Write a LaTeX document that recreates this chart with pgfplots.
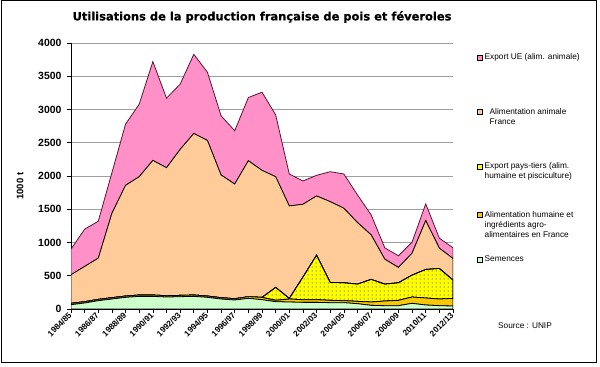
\documentclass[border=0pt]{standalone}
\usepackage{fontspec}
\setmainfont{Liberation Sans}
\newfontfamily\titlefont[FakeBold=0.6]{DejaVu Sans Bold}
\usepackage{pgfplots}
\usepackage{pgfplotstable}
\pgfplotsset{compat=1.18}
\usetikzlibrary{patterns.meta}

\tikzdeclarepattern{
  name=ydots,
  type=uncolored,
  bottom left={(-2bp,-2bp)},
  top right={(2bp,2bp)},
  tile size={(4bp,4bp)},
  code={\pgfpathcircle{\pgfpointorigin}{0.5bp}\pgfusepath{fill}}
}

\definecolor{cPink}{RGB}{255,145,200}
\definecolor{cPeach}{RGB}{255,204,153}
\definecolor{cYellow}{RGB}{255,255,0}
\definecolor{cGold}{RGB}{250,200,0}
\definecolor{cGreen}{RGB}{204,255,204}
\definecolor{cGrid}{RGB}{160,160,160}
\definecolor{cMaroon}{RGB}{90,20,50}

% x  S=Semences  H=Alim. humaine  P=Export pays-tiers  F=Alim. animale France  E=Export UE
\pgfplotstableread{
x S H P F E
0 65 20 0 430 385
1 90 20 0 530 560
2 125 20 0 620 555
3 150 20 0 1270 610
4 175 20 0 1665 920
5 190 20 0 1780 1090
6 190 20 0 2025 1485
7 180 20 0 1925 1045
8 185 20 0 2195 980
9 190 20 0 2430 1190
10 175 20 0 2340 1025
11 150 20 0 1845 890
12 135 20 0 1725 800
13 160 25 0 2045 950
14 140 35 0 1910 1175
15 110 20 195 1665 930
16 105 45 10 1390 480
17 100 40 340 1095 350
18 100 40 670 890 310
19 95 35 270 1215 450
20 95 30 270 1120 515
21 80 35 260 925 415
22 55 50 340 670 300
23 50 70 255 375 170
24 50 80 265 230 175
25 85 95 330 330 165
26 60 105 430 735 250
27 50 100 460 305 150
28 45 115 275 325 160
}\datatable

\newcommand{\legsq}[1]{{\setlength{\fboxsep}{0pt}\setlength{\fboxrule}{0.5bp}%
  \raisebox{0.3bp}{\fcolorbox{black}{#1}{\rule{0pt}{4.5bp}\rule{4.5bp}{0pt}}}}}
\newcommand{\legtext}[3]{\rule{0pt}{#1}\smash{\legsq{#2}\hspace{2bp}\parbox[t]{100bp}{\raggedright #3}}}

\begin{document}
\begin{tikzpicture}
\useasboundingbox (0,0) rectangle (600bp,367bp);
\draw[line width=1bp] (1.5bp,4.5bp) rectangle (596bp,366bp);
\node[font=\titlefont\fontsize{11.5}{13}\selectfont] at (262bp,350bp)
  {Utilisations de la production française de pois et féveroles};
\begin{axis}[
  at={(71bp,58bp)}, anchor=south west,
  scale only axis, width=382bp, height=266bp,
  xmin=0, xmax=28, ymin=0, ymax=4000,
  stack plots=y,
  axis x line*=bottom, axis y line*=left,
  axis line style={line width=0.8bp, -},
  xtick={0,...,28},
  xticklabels={1984/85,,1986/87,,1988/89,,1990/91,,1992/93,,1994/95,,1996/97,,1998/99,,2000/01,,2002/03,,2004/05,,2006/07,,2008/09,,2010/11,,2012/13},
  ytick={0,500,...,4000},
  ymajorgrids, grid style={cGrid, line width=0.6bp},
  tick align=outside, major tick length=4bp,
  tick style={black, line width=0.6bp},
  x tick label style={rotate=45, anchor=east, font=\fontsize{8.3}{9}\selectfont\bfseries, inner sep=1bp},
  y tick label style={font=\fontsize{10.5}{12}\selectfont\bfseries, xshift=-2bp},
  /pgf/number format/1000 sep={},
  /pgf/number format/assume math mode=true,
  ylabel={1000 t},
  ylabel style={at={(axis description cs:-0.1335,0.462)}, anchor=center, font=\fontsize{9.5}{11}\selectfont\bfseries},
  legend style={draw=none, fill=none, at={(axis description cs:1.0628,0.9633)}, anchor=north west,
    inner sep=0pt, row sep=0pt, column sep=0pt, cells={anchor=base west},
    nodes={inner sep=0pt}, font=\fontsize{8.3}{10}\selectfont},
  legend cell align=left,
  legend image code/.code={},
  reverse legend,
]
\addplot[draw=black, line width=0.8bp, fill=cGreen] table[x=x,y=S] {\datatable} \closedcycle;
\addlegendentry{\legtext{43bp}{cGreen}{Semences}}
\addplot[draw=black, line width=0.8bp, fill=cGold] table[x=x,y=H] {\datatable} \closedcycle;
\addlegendentry{\legtext{47bp}{cGold}{Alimentation humaine et\\ingrédients agro-\\alimentaires en France}}
\addplot[draw=black, line width=0.8bp, fill=cYellow, postaction={pattern=ydots, pattern color=black}] table[x=x,y=P] {\datatable} \closedcycle;
\addlegendentry{\legtext{53bp}{cYellow}{Export pays-tiers (alim.\\humaine et pisciculture)}}
\addplot[draw=black, line width=0.8bp, fill=cPeach] table[x=x,y=F] {\datatable} \closedcycle;
\addlegendentry{\legtext{53bp}{cPeach}{\hspace*{5bp}Alimentation animale\\\hspace*{5bp}France}}
\addplot[draw=cMaroon, line width=0.8bp, fill=cPink] table[x=x,y=E] {\datatable} \closedcycle;
\addlegendentry{\legtext{7bp}{cPink}{Export UE (alim. animale)}}
\end{axis}
\node[font=\fontsize{8.3}{10}\selectfont] at (525bp,41bp) {Source : UNIP};
\end{tikzpicture}
\end{document}
